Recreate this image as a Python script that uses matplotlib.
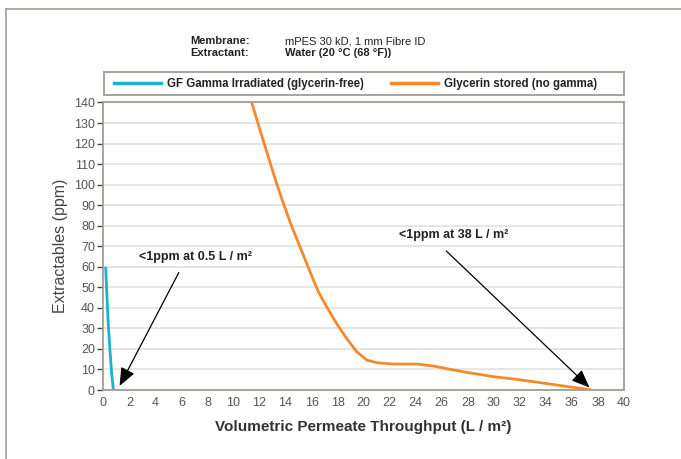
import numpy as np
import matplotlib
matplotlib.use("Agg")
import matplotlib.pyplot as plt
from matplotlib.lines import Line2D
from matplotlib.patches import Rectangle

# data (x in L/m2, y in ppm)
gf_x = [0.18, 0.22, 0.26, 0.32, 0.38, 0.45, 0.51, 0.58, 0.64, 0.71, 0.77]
gf_y = [60, 54, 48.7, 40, 32.4, 25.5, 19.5, 13.5, 8.1, 4, 0]

gly_x = [11.40, 12.04, 12.68, 13.19, 13.70, 14.34, 15.11, 15.88, 16.52, 17.16, 17.92,
         18.69, 19.46, 20.23, 21.0, 22.28, 24.07, 25.35, 26.63, 27.91, 29.96, 31.75,
         34.31, 37.51]
gly_y = [140, 126.5, 113.5, 103.0, 93.3, 81.9, 69.7, 57.6, 47.8, 40.5, 32.4,
         25.1, 18.7, 14.6, 13.3, 12.65, 12.65, 11.7, 10.1, 8.6, 6.5, 5.2,
         2.9, 0]

x_ticks = np.arange(0, 41, 2)
y_ticks = np.arange(0, 141, 10)

gf_label = "GF Gamma Irradiated (glycerin-free)"
gly_label = "Glycerin stored (no gamma)"

CYAN = "#1bb3cb"
ORANGE = "#f7892a"
FRAME = "#a39d93"
FONT = ["Liberation Sans", "DejaVu Sans"]

plt.rcParams["font.family"] = FONT

fig = plt.figure(figsize=(6.81, 4.59), dpi=100)
ax = fig.add_axes([0.1517, 0.1503, 0.7646, 0.6264])

ax.plot(gf_x, gf_y, color=CYAN, lw=2.0, solid_capstyle="butt", solid_joinstyle="round")
ax.plot(gly_x, gly_y, color=ORANGE, lw=2.0, solid_capstyle="butt", solid_joinstyle="round")

ax.set_xlim(0, 40)
ax.set_ylim(0, 140)
ax.set_xticks(x_ticks)
ax.set_yticks(y_ticks)
ax.tick_params(axis="x", length=0, pad=5, labelsize=9, labelcolor="#555555")
ax.tick_params(axis="y", length=4, width=1, color="#444444", pad=2, labelsize=9, labelcolor="#555555")
ax.yaxis.grid(True, color="#e4e2dd", lw=1.2)
ax.set_axisbelow(True)
for s in ax.spines.values():
    s.set_color(FRAME)
    s.set_linewidth(1.3)

ax.set_xlabel("Volumetric Permeate Throughput (L / m²)", fontsize=11, fontweight="bold",
              color="#333333", labelpad=8)
ax.set_ylabel("Extractables (ppm)", fontsize=11.5, color="#444444", labelpad=4)

# annotations
arrow = dict(arrowstyle="-|>,head_length=1.1,head_width=0.45", color="black", lw=0.9)
ax.annotate("", xy=(1.15, 0.8), xytext=(5.9, 58.4), arrowprops=arrow)
ax.text(7.05, 64.9, "<1ppm at 0.5 L / m²", ha="center", va="center", fontsize=9,
        fontweight="bold", color="#222222")
ax.annotate("", xy=(37.5, 0.3), xytext=(26.2, 68.6), arrowprops=arrow)
ax.text(26.9, 75.5, "<1ppm at 38 L / m²", ha="center", va="center", fontsize=9,
        fontweight="bold", color="#222222")

# legend in a box above the plot
leg_h = [Line2D([], [], color=CYAN, lw=2.5), Line2D([], [], color=ORANGE, lw=2.5)]
leg = fig.legend(leg_h, [gf_label, gly_label], loc="center left", ncol=2,
                 bbox_to_anchor=(0.160, 1 - 84 / 459), frameon=False, handlelength=4.1,
                 handletextpad=0.55, columnspacing=2.3, borderaxespad=0,
                 prop=dict(family=FONT, weight="bold", size=8.3))
for t in leg.get_texts():
    t.set_color("#222222")
fig.patches.append(Rectangle((104 / 681, 1 - 95 / 459), 520 / 681, 22.5 / 459,
                             transform=fig.transFigure, fill=False, edgecolor=FRAME, lw=1.3))

# header
hdr = dict(fontsize=8, color="#222222", va="center")
fig.text(190 / 681, 1 - 41 / 459, "Membrane:", fontweight="bold", **hdr)
fig.text(285 / 681, 1 - 41 / 459, "mPES 30 kD, 1 mm Fibre ID", **hdr)
fig.text(190 / 681, 1 - 53 / 459, "Extractant:", fontweight="bold", **hdr)
fig.text(285 / 681, 1 - 53 / 459, "Water (20 °C (68 °F))", fontweight="bold", **hdr)

# outer frame (left and top edges)
fig.add_artist(Line2D([6 / 681, 6 / 681], [0, 1 - 9 / 459], transform=fig.transFigure, color=FRAME, lw=1.2))
fig.add_artist(Line2D([6 / 681, 1], [1 - 9 / 459, 1 - 9 / 459], transform=fig.transFigure, color=FRAME, lw=1.2))

fig.savefig("out.png", dpi=100)
